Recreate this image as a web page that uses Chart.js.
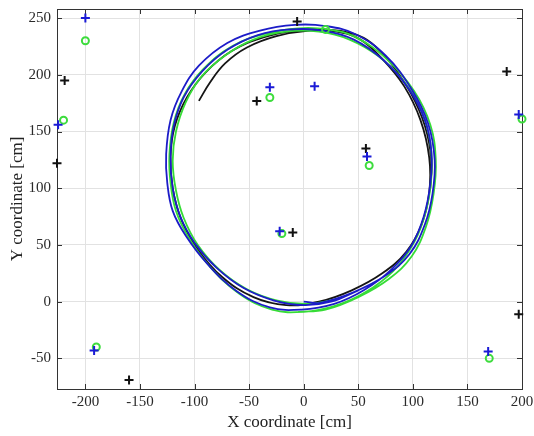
<!DOCTYPE html>
<html lang="en">
  <head>
    <meta charset="UTF-8" />
    <title>Trajectory</title>
    <style>
      body {
        margin: 0;
        background: #ffffff;
      }
    </style>
  </head>
  <body>
    <canvas id="myChart" width="534" height="436"></canvas>

    <script src="https://cdn.jsdelivr.net/npm/chart.js"></script>

    <script>
      // ticks
      const xTicks = [-200, -150, -100, -50, 0, 50, 100, 150, 200];
      const yTicks = [-50, 0, 50, 100, 150, 200, 250];

      // markers
      const bluePlusX = [-200, -225, -31, 10, 58, -22, 197, 169, -192];
      const bluePlusY = [250, 156, 189, 190, 128, 62, 165, -44, -43];
      const blackPlusX = [-219, -226, -43, -6, 57, -10, 186, 197, -160];
      const blackPlusY = [195, 122, 177, 247, 135, 61, 203, -11, -69];
      const greenRingX = [-200, -220, -31, 20, 60, -20, 200, 170, -190];
      const greenRingY = [230, 160, 180, 240, 120, 60, 161, -50, -40];

      // trajectories
      const blueTrackX = [
        0, 15, 45, 75, 97, 111, 118, 120, 114, 99, 75, 47, 20, -8, -40, -70,
        -96, -112, -122, -126, -125, -120, -108, -88, -61, -31, -2,
        28, 55, 80, 99, 110, 116, 117, 111, 96, 73, 46, 18, -12, -42, -70,
        -93, -110, -119, -122, -120, -113, -100, -80, -55, -27, 0, 25, 50,
      ];
      const blueTrackY = [
        0, -1, 8, 23, 42, 68, 95, 125, 157, 187, 217, 236, 243, 244, 239, 228,
        208, 185, 160, 130, 105, 80, 58, 33, 9, -5, -7,
        -2, 10, 28, 50, 75, 104, 132, 160, 188, 213, 231, 239, 240, 235, 222,
        203, 180, 155, 128, 100, 75, 52, 30, 12, 1, -3, 0, 10,
      ];
      const greenTrackX = [
        -5, 20, 50, 78, 99, 112, 119, 121, 116, 101, 77, 48, 22, -5, -36, -66,
        -92, -109, -119, -123, -122, -117, -105, -86, -59, -29, 0,
        28, 56, 82, 101, 112, 117, 116, 108, 92, 69, 42, 14, -16, -46, -72,
        -94, -108, -117, -120, -117, -110, -97, -77, -52, -24, 4, 30,
      ];
      const greenTrackY = [
        -9, -7, 4, 20, 40, 66, 95, 125, 156, 186, 213, 233, 240, 241, 236, 225,
        205, 183, 158, 130, 105, 80, 56, 31, 7, -7, -9,
        -4, 8, 27, 52, 80, 110, 140, 168, 194, 216, 231, 238, 238, 231, 217,
        198, 176, 150, 124, 98, 74, 50, 28, 11, 1, -2, 2,
      ];
      const blackTrackX = [
        -96, -86, -72, -52, -25, 5, 30, 52, 72, 92, 107, 115, 115, 108, 94, 72,
        44, 14, -16, -46, -75, -97, -112, -120, -122, -118, -107, -90, -66,
        -37, -8, 20, 46, 62, 80, 98, 111, 117, 116,
      ];
      const blackTrackY = [
        177, 193, 210, 224, 234, 239, 238, 231, 214, 190, 160, 127, 96, 68, 44,
        25, 10, 0, -3, 4, 22, 46, 72, 100, 128, 155, 180, 202, 221, 233, 239,
        240, 236, 228, 210, 184, 155, 125, 100,
      ];

      const toPoints = (xs, ys) => xs.map((x, i) => ({ x: x, y: ys[i] }));

      const serif = "'Liberation Serif', 'DejaVu Serif', serif";

      function track(label, xs, ys, color, order) {
        return {
          type: "line",
          label: label,
          data: toPoints(xs, ys),
          borderColor: color,
          borderWidth: 1.8,
          pointRadius: 0,
          tension: 0.4,
          fill: false,
          order: order,
        };
      }

      function marks(label, xs, ys, color, style, r) {
        return {
          type: "scatter",
          label: label,
          data: toPoints(xs, ys),
          borderColor: color,
          backgroundColor: "rgba(0,0,0,0)",
          pointStyle: style,
          pointRadius: r,
          borderWidth: 2,
          clip: false,
          order: 0,
        };
      }

      // box around the plot and inward tick marks
      const boxPlugin = {
        id: "box",
        beforeDatasetsDraw(chart) {
          const { ctx, chartArea: a, scales } = chart;
          ctx.save();
          ctx.strokeStyle = "#333333";
          ctx.lineWidth = 1;
          ctx.strokeRect(a.left + 0.5, a.top + 0.5, a.width, a.height);
          ctx.beginPath();
          xTicks.forEach((v) => {
            const px = Math.round(scales.x.getPixelForValue(v)) + 0.5;
            ctx.moveTo(px, a.bottom);
            ctx.lineTo(px, a.bottom - 5);
            ctx.moveTo(px, a.top);
            ctx.lineTo(px, a.top + 5);
          });
          yTicks.forEach((v) => {
            const py = Math.round(scales.y.getPixelForValue(v)) + 0.5;
            ctx.moveTo(a.left, py);
            ctx.lineTo(a.left + 5, py);
            ctx.moveTo(a.right, py);
            ctx.lineTo(a.right - 5, py);
          });
          ctx.stroke();
          ctx.restore();
        },
      };

      const ctx = document.getElementById("myChart").getContext("2d");
      const myChart = new Chart(ctx, {
        data: {
          datasets: [
            marks("blue +", bluePlusX, bluePlusY, "#1a1ad6", "cross", 4.5),
            marks("black +", blackPlusX, blackPlusY, "#111111", "cross", 4.5),
            marks("green o", greenRingX, greenRingY, "#3ddc3d", "circle", 3.5),
            track("black", blackTrackX, blackTrackY, "#151515", 3),
            track("green", greenTrackX, greenTrackY, "#36dc36", 2),
            track("blue", blueTrackX, blueTrackY, "#1c1cc8", 1),
          ],
        },
        options: {
          responsive: false,
          animation: false,
          layout: { padding: { top: 9, right: 12, left: 0, bottom: 0 } },
          plugins: {
            legend: { display: false },
            tooltip: { enabled: false },
          },
          scales: {
            x: {
              type: "linear",
              min: -226,
              max: 200,
              afterBuildTicks: (s) => {
                s.ticks = xTicks.map((v) => ({ value: v }));
              },
              afterFit: (s) => {
                s.height = 47;
                s.paddingLeft = 0;
                s.paddingRight = 0;
              },
              grid: { color: "#e2e2e2", drawTicks: false },
              border: { display: false },
              ticks: {
                padding: 4,
                color: "#2a2a2a",
                font: { family: serif, size: 15 },
                maxRotation: 0,
              },
              title: {
                display: true,
                text: "X coordinate [cm]",
                color: "#222222",
                font: { family: serif, size: 17 },
                padding: { top: 0, bottom: 3 },
              },
            },
            y: {
              type: "linear",
              min: -77,
              max: 258,
              afterBuildTicks: (s) => {
                s.ticks = yTicks.map((v) => ({ value: v }));
              },
              afterFit: (s) => {
                s.width = 57;
                s.paddingTop = 0;
                s.paddingBottom = 0;
              },
              grid: { color: "#e2e2e2", drawTicks: false },
              border: { display: false },
              ticks: {
                padding: 6,
                color: "#2a2a2a",
                font: { family: serif, size: 15 },
              },
              title: {
                display: true,
                text: "Y coordinate [cm]",
                color: "#222222",
                font: { family: serif, size: 17 },
                padding: { top: 7, bottom: 0 },
              },
            },
          },
        },
        plugins: [boxPlugin],
      });
    </script>
  </body>
</html>
